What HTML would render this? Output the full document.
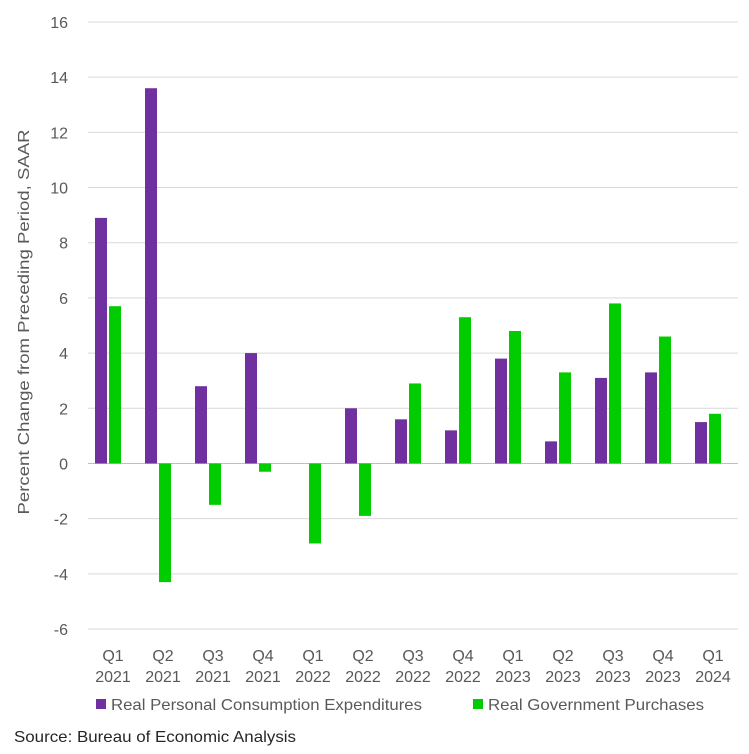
<!DOCTYPE html>
<html><head><meta charset="utf-8"><style>
body{margin:0;background:#fff;font-family:"Liberation Sans",sans-serif;}
svg text{font-family:"Liberation Sans",sans-serif;fill:#595959;}
</style></head><body>
<svg id="chart" width="749" height="749">
<g id="grid"></g><g id="bars"></g><g id="labels"></g>
<text transform="translate(29,322) rotate(-90)" text-anchor="middle" font-size="16" textLength="385" lengthAdjust="spacingAndGlyphs">Percent Change from Preceding Period, SAAR</text>
<rect x="96" y="699" width="10" height="10" fill="#7030a0"/>
<text x="111" y="710" font-size="16" textLength="311" lengthAdjust="spacingAndGlyphs">Real Personal Consumption Expenditures</text>
<rect x="473" y="699" width="10" height="10" fill="#00cc00"/>
<text x="488" y="710" font-size="16" textLength="216" lengthAdjust="spacingAndGlyphs">Real Government Purchases</text>
<text x="14" y="742" font-size="16" textLength="282" lengthAdjust="spacingAndGlyphs" style="fill:#262626">Source: Bureau of Economic Analysis</text>
</svg>
<script>
const quarters=["Q1","Q2","Q3","Q4","Q1","Q2","Q3","Q4","Q1","Q2","Q3","Q4","Q1"];
const years=["2021","2021","2021","2021","2022","2022","2022","2022","2023","2023","2023","2023","2024"];
const pce=[8.9,13.6,2.8,4.0,0,2.0,1.6,1.2,3.8,0.8,3.1,3.3,1.5];
const gov=[5.7,-4.3,-1.5,-0.3,-2.9,-1.9,2.9,5.3,4.8,3.3,5.8,4.6,1.8];
const yTicks=[-6,-4,-2,0,2,4,6,8,10,12,14,16];
const NS="http://www.w3.org/2000/svg";
const plotLeft=88,plotRight=738,plotTop=22,plotBottom=629,ymin=-6,ymax=16;
const y=v=>plotBottom-(v-ymin)/(ymax-ymin)*(plotBottom-plotTop);
const step=(plotRight-plotLeft)/quarters.length;
const xc=i=>plotLeft+step*(i+0.5);
const grid=document.getElementById('grid'),bars=document.getElementById('bars'),labels=document.getElementById('labels');
function mk(tag,attrs,parent){const e=document.createElementNS(NS,tag);for(const k in attrs)e.setAttribute(k,attrs[k]);parent.appendChild(e);return e;}
yTicks.forEach(t=>{
 const l=mk('line',{x1:plotLeft,x2:plotRight,y1:y(t),y2:y(t),stroke:t===0?'#bfbfbf':'#d9d9d9','stroke-width':1},grid);
 
 
 const tx=mk('text',{x:68,y:y(t)+6,'text-anchor':'end','font-size':16},labels);
 tx.textContent=t;
 
 
});
const bw=12;
quarters.forEach((q,i)=>{
 const c=xc(i);
 const a=pce[i];
 const r1=mk('rect',{x:c-bw-6,y:Math.min(y(a),y(0)),width:bw,height:Math.abs(y(a)-y(0)),fill:'#7030a0'},bars);
 
 
 const b=gov[i];
 const r2=mk('rect',{x:c-4,y:Math.min(y(b),y(0)),width:bw,height:Math.abs(y(b)-y(0)),fill:'#00cc00'},bars);
 
 
 const t1=mk('text',{x:c,y:661,'text-anchor':'middle','font-size':16},labels);
 t1.textContent=q;
 
 
 const t2=mk('text',{x:c,y:682,'text-anchor':'middle','font-size':16},labels);
 t2.textContent=years[i];
 
 
});
</script>
</body></html>
